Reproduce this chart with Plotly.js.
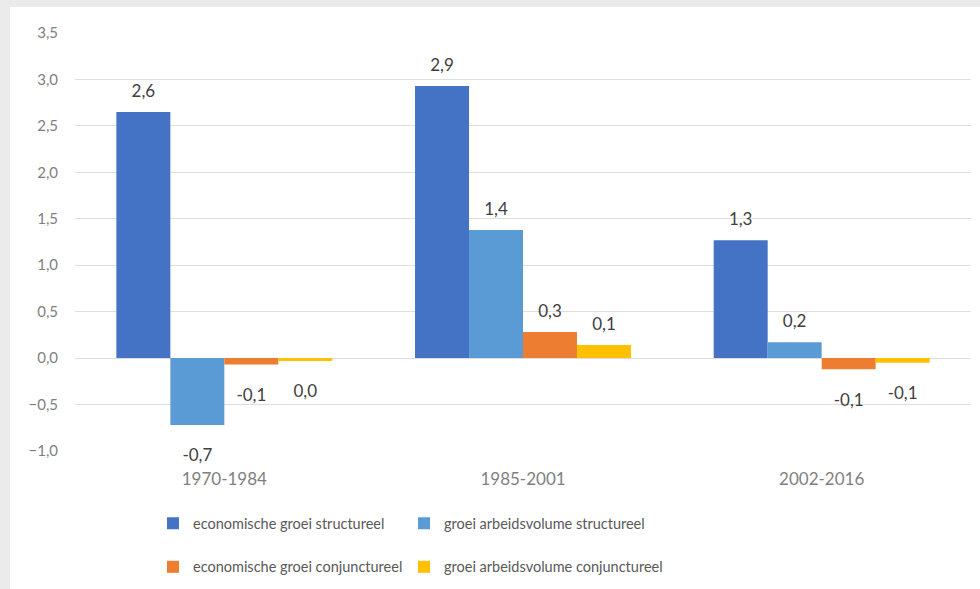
<!DOCTYPE html>
<html>
<head>
<meta charset="utf-8">
<script src="https://cdn.plot.ly/plotly-3.0.1.min.js"></script>
<style>
html,body{margin:0;padding:0;background:#ebebeb;width:980px;height:589px;overflow:hidden;}
#chart{position:absolute;left:10px;top:7px;width:970px;height:582px;background:#fff;}
</style>
</head>
<body>
<div id="chart"></div>
<script>
const categories = ['1970-1984', '1985-2001', '2002-2016'];
const seriesNames = [
  'economische groei structureel',
  'groei arbeidsvolume structureel',
  'economische groei conjunctureel',
  'groei arbeidsvolume conjunctureel'
];
const econStruct = [2.65, 2.93, 1.27];
const arbeidStruct = [-0.72, 1.38, 0.17];
const econConj = [-0.07, 0.28, -0.12];
const arbeidConj = [-0.03, 0.14, -0.05];
const yTicks = [-1.0, -0.5, 0.0, 0.5, 1.0, 1.5, 2.0, 2.5, 3.0, 3.5];
const colors = ['#4472c4', '#5b9bd5', '#ed7d31', '#ffc000'];
const values = [econStruct, arbeidStruct, econConj, arbeidConj];
const legendIds = ['legend', 'legend2', 'legend3', 'legend4'];

const FONT = 'Lato, "Open Sans", sans-serif';
const GAP = 0.277;

const bars = values.map((v, i) => ({
  type: 'bar',
  name: seriesNames[i],
  x: categories,
  y: v,
  offsetgroup: 'g' + i,
  alignmentgroup: 'a',
  marker: {color: colors[i], line: {width: 0}},
  legend: legendIds[i],
  hoverinfo: 'skip'
}));

const labels = values.map((v, i) => ({
  type: 'scatter',
  mode: 'markers+text',
  x: categories,
  y: v,
  offsetgroup: 'g' + i,
  alignmentgroup: 'a',
  marker: {size: v.map(d => d >= 0 ? 16 : 36), color: 'rgba(0,0,0,0)', opacity: 0, line: {width: 0, color: 'rgba(0,0,0,0)'}},
  texttemplate: '%{y:.1f}',
  textposition: v.map(d => d >= 0 ? 'top center' : 'bottom center'),
  textfont: {family: FONT, size: 17, color: '#404040'},
  cliponaxis: false,
  showlegend: false,
  hoverinfo: 'skip'
}));

function leg(x, y) {
  return {
    orientation: 'h',
    xref: 'container', yref: 'container',
    x: x, xanchor: 'left',
    y: y, yanchor: 'middle',
    bgcolor: 'rgba(0,0,0,0)',
    borderwidth: 0,
    font: {family: FONT, size: 14.5, color: '#595959'},
    itemwidth: 30,
    itemclick: false, itemdoubleclick: false
  };
}

const layout = {
  width: 970, height: 582,
  margin: {l: 65, r: 9, t: 26, b: 138},
  paper_bgcolor: '#ffffff',
  plot_bgcolor: '#ffffff',
  separators: ',.',
  barmode: 'group',
  bargap: GAP,
  bargroupgap: 0,
  scattermode: 'group',
  scattergap: GAP,
  font: {family: FONT, color: '#7f7f7f'},
  xaxis: {
    type: 'category',
    showgrid: false, zeroline: false, showline: false,
    ticks: '',
    tickfont: {family: FONT, size: 17, color: '#7f7f7f'},
    ticklabelstandoff: 16
  },
  yaxis: {
    range: [-1.0, 3.5],
    tickvals: yTicks,
    tickformat: '.1f',
    showgrid: true, gridcolor: '#dedede', gridwidth: 1,
    zeroline: true, zerolinecolor: '#dedede', zerolinewidth: 1,
    showline: false, ticks: '',
    tickfont: {family: FONT, size: 15, color: '#7f7f7f'},
    ticklabelstandoff: 16
  },
  legend: leg(0.1474, 0.113),
  legend2: leg(0.4062, 0.113),
  legend3: leg(0.1474, 0.038),
  legend4: leg(0.4062, 0.038),
  showlegend: true
};

Plotly.newPlot('chart', bars.concat(labels), layout, {displayModeBar: false, staticPlot: true});
</script>
</body>
</html>
